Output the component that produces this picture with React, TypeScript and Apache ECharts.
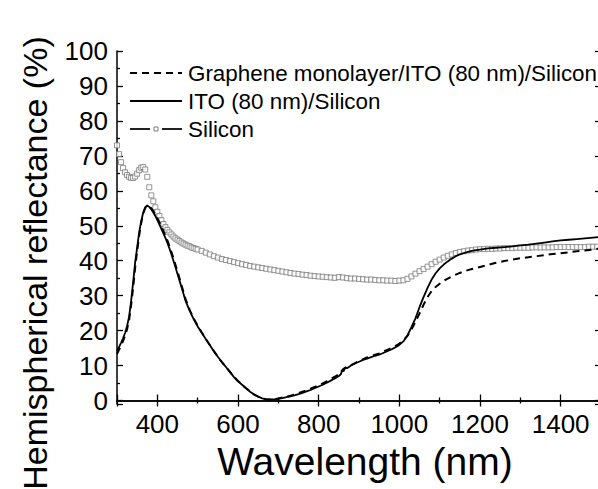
import React, { useEffect, useRef } from "react";
import * as echarts from "echarts";

const lineWl = [
  300, 305, 310, 315, 320, 325, 330, 335, 340, 345, 350, 355, 360, 365, 370, 375,
  380, 385, 390, 395, 400, 405, 410, 415, 420, 425, 430, 435, 440, 445, 450, 455, 460, 465, 470,
  480, 490, 500, 510, 520, 530, 540, 550, 560, 570, 580, 590, 600, 610, 620, 630, 640, 650, 660,
  670, 680, 690, 700, 710, 720, 730, 740, 750, 760, 770, 780, 790, 800, 810, 820, 830, 840, 850,
  855, 858, 862, 866, 870, 875,
  880, 890, 900, 910, 920, 930, 940, 950, 960, 970, 980, 990, 1000, 1010, 1020, 1030, 1040, 1050,
  1060, 1070, 1080, 1090, 1100, 1110, 1120, 1130, 1140, 1150, 1160, 1170, 1180, 1190, 1200,
  1220, 1240, 1260, 1280, 1300, 1320, 1340, 1360, 1380, 1400, 1420, 1440, 1460, 1480, 1500,
];

const itoR = [
  14.1, 15.3, 16.5, 17.8, 19.3, 21.3, 24.0, 28.5, 33.8, 39.5, 43.8, 48.2, 51.3, 53.8, 55.3, 55.8,
  55.4, 54.7, 53.8, 52.8, 51.6, 50.4, 49.1, 47.8, 46.5, 45.1, 43.5, 41.8, 40.0, 38.1, 36.2, 34.3, 32.4, 30.5, 28.5,
  25.7, 23.3, 21.2, 19.4, 17.6, 15.9, 14.1, 12.5, 11.0, 9.6, 8.2, 6.7, 5.5, 4.5, 3.5, 2.5, 1.7, 1.1, 0.6,
  0.35, 0.3, 0.35, 0.5, 0.7, 0.95, 1.2, 1.5, 1.8, 2.2, 2.6, 3.0, 3.5, 4.0, 4.5, 5.1, 5.7, 6.3, 7.0,
  7.5, 8.6, 8.4, 9.5, 9.2, 9.6,
  10.0, 10.6, 11.1, 11.6, 12.0, 12.4, 12.8, 13.1, 13.6, 14.1, 14.6, 15.2, 15.9, 16.9, 18.6, 21.0, 23.5, 26.7,
  29.6, 32.2, 34.6, 36.4, 37.8, 38.9, 39.8, 40.6, 41.3, 41.8, 42.2, 42.5, 42.8, 43.0, 43.2,
  43.5, 43.7, 43.9, 44.1, 44.4, 44.6, 44.9, 45.2, 45.5, 45.8, 46.0, 46.2, 46.4, 46.6, 46.8,
];

const grapheneR = [
  13.3, 14.5, 15.7, 17.0, 18.5, 20.4, 23.0, 27.2, 32.3, 38.0, 42.8, 47.2, 50.8, 53.5, 55.1, 55.6,
  55.5, 55.0, 54.2, 53.3, 52.2, 51.0, 49.8, 48.5, 47.2, 45.8, 44.2, 42.5, 40.7, 38.8, 36.9, 35.0, 33.0, 31.0, 29.0,
  26.0, 23.5, 21.4, 19.5, 17.7, 15.9, 14.2, 12.5, 11.0, 9.6, 8.2, 6.8, 5.6, 4.5, 3.5, 2.6, 1.7, 1.1, 0.6,
  0.35, 0.3, 0.4, 0.6, 0.85, 1.1, 1.4, 1.7, 2.1, 2.5, 2.9, 3.4, 3.9, 4.4, 4.9, 5.5, 6.2, 6.8, 7.5,
  7.9, 8.6, 9.1, 9.3, 9.6, 9.8,
  10.1, 10.7, 11.3, 11.8, 12.3, 12.7, 13.1, 13.5, 14.0, 14.5, 15.0, 15.6, 16.3, 17.2, 18.5, 20.3, 22.5, 24.9,
  27.4, 29.6, 31.3, 32.5, 33.4, 34.2, 34.9, 35.5, 36.0, 36.5, 36.9, 37.3, 37.6, 37.9, 38.2,
  38.8, 39.4, 39.9, 40.3, 40.7, 41.0, 41.3, 41.6, 41.9, 42.1, 42.4, 42.7, 42.9, 43.2, 43.5,
];

const siliconWl = [
  300, 305, 310, 315, 320, 325, 330, 335, 340, 345, 350, 355, 360, 365, 370, 375, 380, 385, 390, 395,
  400, 405, 410, 415, 420, 425, 430, 435, 440, 445, 450, 455, 460, 465, 470, 475, 480, 485, 490, 495,
  500, 510, 520, 530, 540, 550, 560, 570, 580, 590, 600, 610, 620, 630, 640, 650, 660, 670, 680, 690,
  700, 710, 720, 730, 740, 750, 760, 770, 780, 790, 800, 810, 820, 830, 840, 850, 860, 870, 880, 890,
  900, 910, 920, 930, 940, 950, 960, 970, 980, 990, 1000, 1010, 1020, 1030, 1040, 1050, 1060, 1070,
  1080, 1090, 1100, 1110, 1120, 1130, 1140, 1150, 1160, 1170, 1180, 1190, 1200, 1210, 1220, 1230,
  1240, 1250, 1260, 1270, 1280, 1290, 1300, 1310, 1320, 1330, 1340, 1350, 1360, 1370, 1380, 1390,
  1400, 1410, 1420, 1430, 1440, 1450, 1460, 1470, 1480, 1490, 1500,
];

const siliconR = [
  73.0, 70.5, 68.2, 66.5, 65.3, 64.5, 64.0, 63.7, 63.7, 64.1, 64.9, 65.9, 66.6, 66.8, 66.1, 64.0, 61.0, 58.7, 57.0, 55.3,
  54.0, 52.8, 51.6, 50.5, 49.6, 48.8, 48.1, 47.5, 46.9, 46.4, 46.0, 45.6, 45.2, 44.9, 44.6, 44.3, 44.1, 43.8, 43.6, 43.4,
  43.2, 42.8, 42.3, 41.8, 41.3, 40.9, 40.5, 40.2, 39.9, 39.6, 39.3, 39.0, 38.8, 38.5, 38.3, 38.1, 37.9, 37.7, 37.5, 37.3,
  37.1, 36.9, 36.7, 36.5, 36.3, 36.2, 36.0, 35.9, 35.7, 35.6, 35.5, 35.4, 35.3, 35.2, 35.1, 35.3, 35.2, 35.0, 34.9, 34.9,
  34.8, 34.7, 34.6, 34.6, 34.5, 34.4, 34.4, 34.3, 34.3, 34.2, 34.3, 34.4, 34.8, 35.5, 36.3, 37.0, 37.6, 38.3,
  39.0, 39.7, 40.3, 40.9, 41.4, 41.8, 42.2, 42.5, 42.7, 42.9, 43.0, 43.2, 43.3, 43.3, 43.4, 43.4,
  43.5, 43.5, 43.6, 43.6, 43.6, 43.7, 43.7, 43.7, 43.7, 43.8, 43.8, 43.8, 43.8, 43.8, 43.8, 43.9,
  43.9, 43.9, 43.9, 43.9, 43.9, 43.9, 43.9, 44.0, 44.0, 44.0, 44.0,
];

const seriesNames = [
  "Graphene monolayer/ITO (80 nm)/Silicon",
  "ITO (80 nm)/Silicon",
  "Silicon",
];

const xTitle = "Wavelength (nm)";
const yTitle = "Hemispherical reflectance (%)";

const FONT = "'Liberation Sans', Arial, Helvetica, sans-serif";
const DASH = [7, 5];

function pairs(xs: number[], ys: number[]) {
  return xs.map((x, i) => [x, ys[i]]);
}

export default function App() {
  const ref = useRef<HTMLDivElement>(null);

  useEffect(() => {
    document.body.style.margin = "0";
    document.body.style.overflow = "hidden";
    if (!ref.current) return;
    const chart = echarts.init(ref.current, undefined, { renderer: "svg" });

    const axisLine = { show: true, lineStyle: { color: "#000", width: 1.5 } };
    const axisTick = { show: true, inside: true, length: 6, lineStyle: { color: "#000", width: 1.3 } };
    const minorTick = { show: true, splitNumber: 2, length: 3, lineStyle: { color: "#000", width: 1.3 } };

    const xBase = {
      type: "value" as const,
      min: 300,
      max: 1500,
      splitNumber: 6,
      axisLine,
      axisTick,
      minorTick,
      splitLine: { show: false },
      minorSplitLine: { show: false },
    };
    const yBase = {
      type: "value" as const,
      min: -1,
      max: 100,
      splitNumber: 10,
      axisLine,
      axisTick,
      minorTick,
      splitLine: { show: false },
      minorSplitLine: { show: false },
    };

    const lx1 = 130;
    const lx2 = 182;
    const rows = [73, 101, 129];

    chart.setOption({
      animation: false,
      backgroundColor: "#fff",
      grid: { left: 117, right: 9, top: 51, bottom: 85, containLabel: false },
      xAxis: [
        {
          ...xBase,
          position: "bottom",
          axisLabel: {
            fontSize: 26,
            color: "#000",
            fontFamily: FONT,
            margin: 7,
            showMinLabel: false,
            showMaxLabel: false,
            formatter: (v: number) => String(v),
          },
        },
        { ...xBase, position: "top", axisLabel: { show: false } },
      ],
      yAxis: [
        {
          ...yBase,
          position: "left",
          axisLabel: {
            fontSize: 26,
            color: "#000",
            fontFamily: FONT,
            margin: 9,
            showMinLabel: false,
            formatter: (v: number) => String(v),
          },
        },
        { ...yBase, position: "right", axisLabel: { show: false } },
      ],
      series: [
        {
          name: seriesNames[2],
          type: "scatter",
          data: pairs(siliconWl, siliconR),
          symbol: "rect",
          symbolSize: 5,
          itemStyle: { color: "#fff", borderColor: "#7a7a7a", borderWidth: 1 },
          z: 2,
        },
        {
          name: seriesNames[0],
          type: "line",
          data: pairs(lineWl, grapheneR),
          showSymbol: false,
          symbol: "none",
          lineStyle: { color: "#000", width: 2, type: DASH },
          z: 3,
        },
        {
          name: seriesNames[1],
          type: "line",
          data: pairs(lineWl, itoR),
          showSymbol: false,
          symbol: "none",
          lineStyle: { color: "#000", width: 1.8 },
          z: 4,
        },
      ],
      graphic: [
        {
          type: "line",
          shape: { x1: lx1, y1: rows[0], x2: lx2, y2: rows[0] },
          style: { stroke: "#000", lineWidth: 2, lineDash: DASH },
        },
        {
          type: "line",
          shape: { x1: lx1, y1: rows[1], x2: lx2, y2: rows[1] },
          style: { stroke: "#000", lineWidth: 2 },
        },
        {
          type: "line",
          shape: { x1: lx1, y1: rows[2], x2: lx1 + 20, y2: rows[2] },
          style: { stroke: "#222", lineWidth: 2 },
        },
        {
          type: "rect",
          shape: { x: (lx1 + lx2) / 2 - 2, y: rows[2] - 2, width: 4, height: 4 },
          style: { fill: "#fff", stroke: "#7a7a7a", lineWidth: 1 },
        },
        {
          type: "line",
          shape: { x1: lx2 - 20, y1: rows[2], x2: lx2, y2: rows[2] },
          style: { stroke: "#222", lineWidth: 2 },
        },
        ...seriesNames.map((name, i) => ({
          type: "text",
          x: 188,
          y: rows[i],
          style: {
            text: name,
            fontSize: 22.4,
            fontFamily: FONT,
            fill: "#000",
            align: "left",
            verticalAlign: "middle",
          },
        })),
        {
          type: "text",
          x: 365,
          y: 461,
          style: {
            text: xTitle,
            fontSize: 39,
            fontFamily: FONT,
            fill: "#000",
            align: "center",
            verticalAlign: "middle",
          },
        },
        {
          type: "text",
          x: 35,
          y: 263,
          rotation: Math.PI / 2,
          style: {
            text: yTitle,
            fontSize: 34,
            fontFamily: FONT,
            fill: "#000",
            align: "center",
            verticalAlign: "middle",
          },
        },
      ],
    });

    return () => chart.dispose();
  }, []);

  return (
    <div style={{ position: "absolute", left: 0, top: 0, width: 598, height: 489, overflow: "hidden" }}>
      <div ref={ref} style={{ width: 610, height: 489 }} />
    </div>
  );
}
